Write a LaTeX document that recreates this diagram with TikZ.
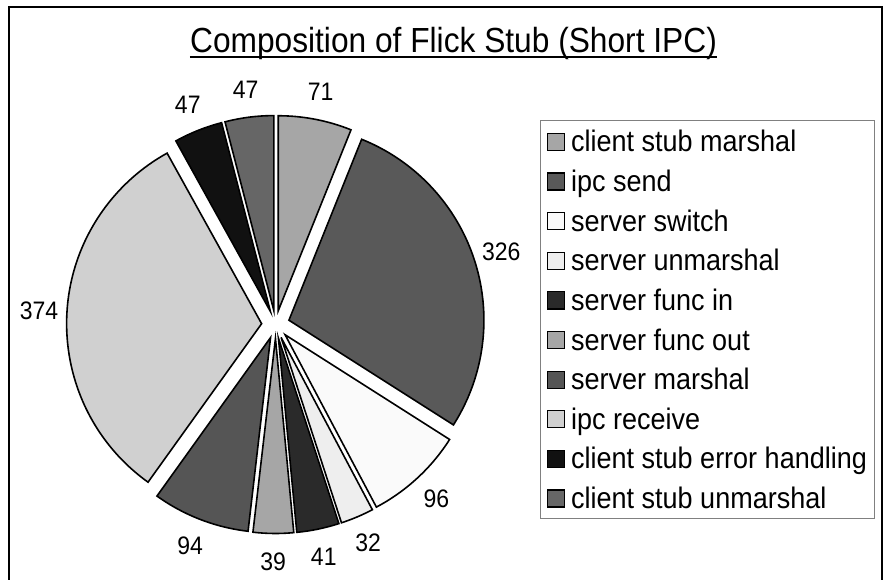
\documentclass[tikz,border=0pt]{standalone}
\usepackage{fontspec}
\usepackage{graphicx}
\setmainfont{Liberation Sans}
\usetikzlibrary{calc}

% slice greys
\definecolor{gA}{HTML}{A6A6A6}
\definecolor{gB}{HTML}{595959}
\definecolor{gC}{HTML}{FAFAFA}
\definecolor{gD}{HTML}{EEEEEE}
\definecolor{gE}{HTML}{2A2A2A}
\definecolor{gF}{HTML}{A6A6A6}
\definecolor{gG}{HTML}{555555}
\definecolor{gH}{HTML}{D0D0D0}
\definecolor{gI}{HTML}{111111}
\definecolor{gJ}{HTML}{666666}
\definecolor{legendframe}{HTML}{808080}

% text is set slightly taller than wide
\newcommand{\tall}[1]{\scalebox{1}[1.1]{#1}}

\begin{document}
\begin{tikzpicture}[x=1pt,y=1pt,
  slice/.style={draw=black, line width=1.6pt, line join=miter},
  valuelabel/.style={inner sep=0pt, font=\fontsize{23}{23}\selectfont},
  legendtext/.style={inner sep=0pt, font=\fontsize{27}{27}\selectfont},
  swatch/.style={draw=black, line width=1.2pt},
  titletext/.style={inner sep=0pt, font=\fontsize{31.7}{32}\selectfont}]
\useasboundingbox (0,0) rectangle (891,579);

% outer frame (open at the bottom)
\draw[line width=2pt] (9,-5) -- (9,572) -- (882,572) -- (882,-5);

% title with underline
\node[titletext, anchor=base] (title) at (453.5,526) {\tall{Composition of Flick Stub (Short IPC)}};
\draw[line width=1.8pt] ([yshift=-4pt]title.base west) -- ([yshift=-4pt]title.base east);

% exploded pie, clockwise from the top
\coordinate (C) at (275.6,254.5);
\foreach \s/\e/\col/\val in {
    90/68.10/gA/71,
    68.10/-32.47/gB/326,
    -32.47/-62.08/gC/96,
    -62.08/-71.95/gD/32,
    -71.95/-84.60/gE/41,
    -84.60/-96.63/gF/39,
    -96.63/-125.63/gG/94,
    -125.63/-241.00/gH/374,
    119.00/104.50/gI/47,
    104.50/90.00/gJ/47}
{
  \pgfmathsetmacro\m{(\s+\e)/2}
  \draw[slice, fill=\col] ($(C)+(\m:14)$) -- +(\s:195)
      arc[start angle=\s, end angle=\e, radius=195] -- cycle;
  \node[valuelabel] at ($(C)+(\m:237)$) {\tall{\val}};
}

% legend
\draw[legendframe, line width=1pt] (540,61) rectangle (874,458);
\foreach \col/\txt [count=\k from 0] in {
    gA/client stub marshal,
    gB/ipc send,
    gC/server switch,
    gD/server unmarshal,
    gE/server func in,
    gF/server func out,
    gG/server marshal,
    gH/ipc receive,
    gI/client stub error handling,
    gJ/client stub unmarshal}
{
  \pgfmathsetmacro\yy{579-142-39.6*\k}
  \draw[swatch, fill=\col] (547.5,\yy-8.5) rectangle (564.5,\yy+8.5);
  \node[legendtext, anchor=base west] at (571,\yy-10) {\tall{\txt}};
}
\end{tikzpicture}
\end{document}
